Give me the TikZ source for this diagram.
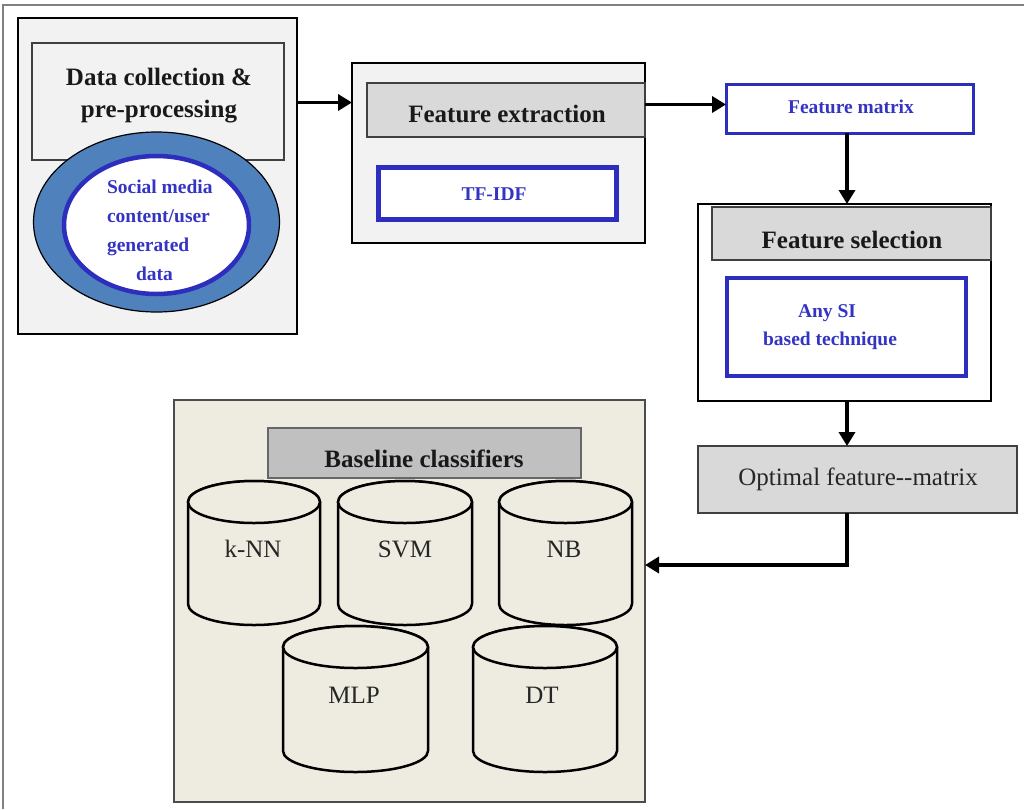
\documentclass[tikz,border=0pt]{standalone}
\usepackage{fontspec}
\setmainfont{Liberation Serif}
\usetikzlibrary{arrows.meta,shapes.geometric}
\definecolor{boxgray}{HTML}{F2F2F2}
\definecolor{headgray}{HTML}{D9D9D9}
\definecolor{basehead}{HTML}{C0C0C0}
\definecolor{basebg}{HTML}{EEECE1}
\definecolor{ellblue}{HTML}{4F81BD}
\definecolor{myblue}{HTML}{2E2EBE}
\definecolor{txtblue}{HTML}{3434C4}
\definecolor{framegray}{HTML}{808080}
\newcommand\bx[6]{\node[#6, anchor=north west, minimum width={#4-#2}, minimum height={#5-#3}] (#1) at (#2,-#3) {};}
\newcommand\mycyl[5]{%
  \pgfmathsetmacro\cyx{(#2+#3)/2}\pgfmathsetmacro\cyrx{(#3-#2)/2}%
  \pgfmathsetmacro\cyty{-(#4+21)}\pgfmathsetmacro\cyby{-(#5-21)}%
  \draw[cyl] (#2,\cyty) -- (#2,\cyby) arc[start angle=180,end angle=360,x radius=\cyrx,y radius=21] -- (#3,\cyty) arc[start angle=0,end angle=180,x radius=\cyrx,y radius=21] -- cycle;
  \draw[cyl] (\cyx,\cyty) ellipse[x radius=\cyrx, y radius=21];
  \node[cyltext] (#1) at (\cyx,\cyty-35) {};
}
\begin{document}
\begin{tikzpicture}[x=1pt,y=1pt,
  every node/.style={inner sep=0pt, outer sep=0pt},
  outerbox/.style={draw=black, line width=2.5pt, fill=boxgray},
  titlebox/.style={draw=black!75, line width=1.5pt, fill=boxgray},
  headbox/.style={draw=black!75, line width=1.5pt, fill=headgray},
  bluebox/.style={draw=myblue, fill=white},
  title/.style={font=\fontsize{25}{30}\selectfont\bfseries, text=black!90, anchor=base},
  bluetxt/.style={font=\fontsize{19.5}{24}\selectfont\bfseries, text=txtblue},
  plain/.style={font=\fontsize{25}{30}\selectfont, text=black!85, anchor=base},
  cyl/.style={draw=black, line width=2.5pt, fill=basebg},
  cyltext/.style={},
  arr/.style={draw=black, line width=3.5pt, -{Triangle[length=14pt,width=16pt]}},
  conn/.style={draw=black, line width=3.5pt}]
\useasboundingbox (0,0) rectangle (1024,-809);
\fill[white] (0,0) rectangle (1024,-809);
% outer frame
\coordinate (fTL) at (3,-5);
\coordinate (fTR) at (1024,-5);
\coordinate (fBL) at (3,-809);
\draw[framegray, line width=1.2pt] (fBL) -- (fTL) -- (fTR);

% Data collection box
\bx{A}{18}{18}{297}{334}{outerbox}
\bx{At}{32}{43}{284}{160}{titlebox}
\node[title] (t1) at (159,-85) {Data collection \&};
\node[title] (t2) at (159,-117) {pre-processing};
\node[ellipse, draw=black, line width=1.2pt, fill=ellblue, minimum width=246, minimum height=180] (E) at (156.5,-222) {};
\node[ellipse, draw=myblue, line width=4.5pt, fill=white, minimum width=185, minimum height=138] (Ei) at (156.5,-225) {};
\node[bluetxt, anchor=base west] (e1) at (107,-193) {Social media};
\node[bluetxt, anchor=base west] (e2) at (107,-222) {content/user};
\node[bluetxt, anchor=base west] (e3) at (107,-251) {generated};
\node[bluetxt, anchor=base west] (e4) at (136,-280) {data};

% Feature extraction
\bx{B}{352}{63}{645}{243}{outerbox}
\bx{Bh}{367}{83}{645}{137}{headbox}
\node[title] (fe) at (507,-122) {Feature extraction};
\bx{TF}{378}{167}{616}{219}{bluebox, line width=5pt}
\node[bluetxt, anchor=base] (tft) at (494,-200) {TF-IDF};

% Feature matrix
\bx{FM}{726}{84}{973}{133}{bluebox, line width=3pt}
\node[bluetxt, anchor=base] (fmt) at (851,-113) {Feature matrix};

% Feature selection
\bx{FS}{698}{204}{991}{401}{outerbox, fill=white}
\bx{FSh}{712}{207}{991}{260}{headbox}
\node[title] (fst) at (852,-248) {Feature selection};
\bx{SI}{727}{278}{966}{376}{bluebox, line width=3.5pt}
\node[bluetxt, anchor=base] (si1) at (827,-317) {Any SI};
\node[bluetxt, anchor=base] (si2) at (830,-345) {based technique};

% Optimal feature matrix
\bx{Opt}{698}{446}{1017}{513}{headbox, line width=2pt}
\node[plain] (optt) at (858,-485) {Optimal feature-{}-matrix};

% Baseline classifiers
\bx{BL}{174}{400}{645}{802}{draw=black!70, line width=2pt, fill=basebg}
\bx{BLh}{268}{428}{581}{478}{draw=black!60, line width=1.4pt, fill=basehead}
\node[title] (blt) at (424,-467) {Baseline classifiers};

\mycyl{c1}{188}{320}{481}{625}
\mycyl{c2}{338}{472}{481}{625}
\mycyl{c3}{499}{632}{481}{625}
\mycyl{c4}{283}{428}{626}{772}
\mycyl{c5}{473}{617}{626}{772}
\node[plain] (l1) at (253,-557) {k-NN};
\node[plain] (l2) at (405,-557) {SVM};
\node[plain] (l3) at (564,-557) {NB};
\node[plain] (l4) at (354,-703) {MLP};
\node[plain] (l5) at (542,-703) {DT};

% connectors
\draw[arr] ([yshift=-1]At.east -| A.east) -- ([yshift=-1]At.east -| B.west);
\draw[arr] ([yshift=4]FM.west -| B.east) -- ([yshift=4]FM.west);
\coordinate (vx) at (847,-300);
\draw[arr] (FM.south -| vx) -- (FS.north -| vx);
\draw[arr] (FS.south -| vx) -- (Opt.north -| vx);
\coordinate (bend) at (847,-565);
\draw[arr] (Opt.south -| bend) -- (bend) -- (bend -| BL.east);
\end{tikzpicture}
\end{document}
